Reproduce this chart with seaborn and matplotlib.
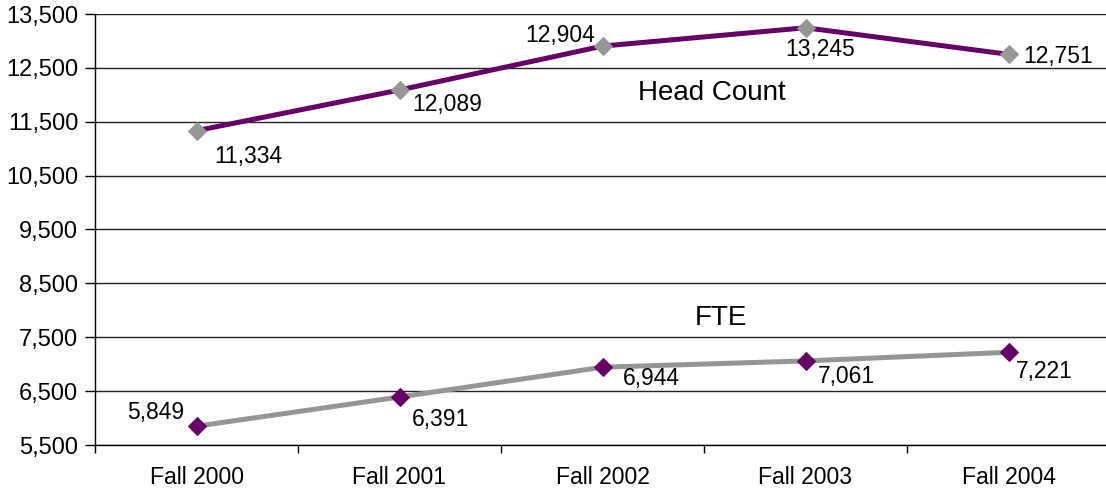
import matplotlib
matplotlib.use("Agg")
import matplotlib.pyplot as plt
import seaborn as sns
import pandas as pd
from matplotlib.ticker import FixedLocator, FuncFormatter

categories = ["Fall 2000", "Fall 2001", "Fall 2002", "Fall 2003", "Fall 2004"]
head_count = [11334, 12089, 12904, 13245, 12751]
fte = [5849, 6391, 6944, 7061, 7221]
y_ticks = [5500, 6500, 7500, 8500, 9500, 10500, 11500, 12500, 13500]

PURPLE = "#660066"
GREY = "#969696"

sns.set_theme(style="white")
plt.rcParams["font.family"] = ["Liberation Sans", "DejaVu Sans"]

fig = plt.figure(figsize=(11.06, 4.94), dpi=100)
ax = fig.add_axes([95 / 1106, 49 / 494, 1015 / 1106, 431 / 494])

df = pd.DataFrame({"cat": categories, "hc": head_count, "fte": fte})

sns.lineplot(data=df, x="cat", y="hc", ax=ax, color=PURPLE, linewidth=3.6,
             marker="D", markersize=9, markerfacecolor=GREY, markeredgecolor=GREY,
             sort=False, zorder=3)
sns.lineplot(data=df, x="cat", y="fte", ax=ax, color=GREY, linewidth=3.6,
             marker="D", markersize=9, markerfacecolor=PURPLE, markeredgecolor=PURPLE,
             sort=False, zorder=3)

ax.set_xlim(-0.5, 4.5)
ax.set_ylim(5500, 13500)
ax.yaxis.set_major_locator(FixedLocator(y_ticks))
ax.yaxis.set_major_formatter(FuncFormatter(lambda v, p: f"{int(v):,}"))
ax.grid(axis="y", color="#222222", linewidth=1.0)
ax.grid(axis="x", visible=False)
ax.set_xlabel("")
ax.set_ylabel("")

ax.xaxis.set_minor_locator(FixedLocator([-0.5, 0.5, 1.5, 2.5, 3.5, 4.5]))
ax.tick_params(axis="x", which="major", length=0, pad=15, labelsize=16.5, colors="black")
ax.tick_params(axis="x", which="minor", length=6, width=1, color="black", direction="out", bottom=True)
ax.tick_params(axis="y", which="major", length=7, width=1, color="black", direction="out",
               left=True, pad=5, labelsize=17, labelcolor="black")

for s in ["top", "right"]:
    ax.spines[s].set_visible(False)
for s in ["left", "bottom"]:
    ax.spines[s].set_visible(True)
    ax.spines[s].set_color("black")
    ax.spines[s].set_linewidth(1.0)

# data labels (offsets in pixels)
hc_off = [(52, -26), (48, -14), (-42, 11), (15, -22), (50, -2)]
fte_off = [(-41, 14), (41, -23), (49, -11), (41, -16), (36, -19)]
for i, (v, (dx, dy)) in enumerate(zip(head_count, hc_off)):
    ax.annotate(f"{v:,}", (i, v), xytext=(dx, dy), textcoords="offset pixels",
                ha="center", va="center", fontsize=16.5, color="black", zorder=4)
for i, (v, (dx, dy)) in enumerate(zip(fte, fte_off)):
    ax.annotate(f"{v:,}", (i, v), xytext=(dx, dy), textcoords="offset pixels",
                ha="center", va="center", fontsize=16.5, color="black", zorder=4)

fig.text(712 / 1106, 1 - 93 / 494, "Head Count", ha="center", va="center", fontsize=20, color="black")
fig.text(721 / 1106, 1 - 318 / 494, "FTE", ha="center", va="center", fontsize=20, color="black")

fig.savefig("out.png", dpi=100)
